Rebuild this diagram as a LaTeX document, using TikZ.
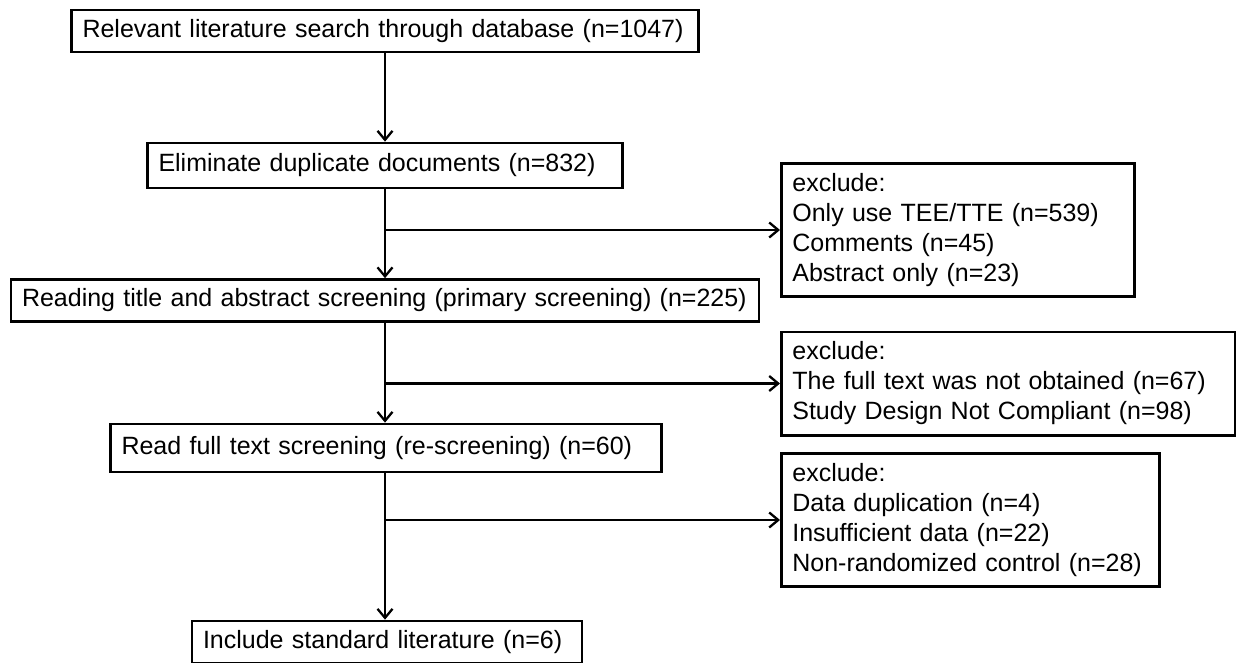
\documentclass[tikz,border=0pt]{standalone}
\usepackage{fontspec}
\setmainfont{Liberation Sans}
\usetikzlibrary{arrows.meta}
\tikzset{
  stage/.style={draw, line width=2.7pt, inner xsep=11pt, align=left, font=\fontsize{25}{30}\selectfont,
    execute at begin node=\leavevmode\hbox\bgroup, execute at end node=\egroup},
  exbox/.style={draw, line width=2.7pt, inner xsep=11pt, inner ysep=10pt, align=left, anchor=west, font=\fontsize{25}{30}\selectfont},
  flow/.style={->, line width=2.3pt},
  >={Straight Barb[length=9pt,width=15pt]}
}
\begin{document}
\begin{tikzpicture}[x=1pt,y=1pt]
    \useasboundingbox (0,0) rectangle (1236,-663);

    % main stages
    \node [stage, text width=605pt, minimum height=42pt, name=search] at (385,-31) {Relevant literature search through database (n=1047)};
    \node [stage, text width=453pt, minimum height=45pt, name=dedup] at (385,-165.5) {Eliminate duplicate documents (n=832)};
    \node [stage, text width=726pt, minimum height=42pt, name=primary] at (385,-300.5) {Reading title and abstract screening (primary screening) (n=225)};
    \node [stage, text width=529pt, minimum height=48pt, name=fulltext] at (386,-448) {Read full text screening (re-screening) (n=60)};
    \node [stage, text width=368pt, minimum height=42pt, name=include] at (387,-642) {Include standard literature (n=6)};

    \draw [flow] (search) -- (dedup);
    \draw [flow] (dedup) -- (primary);
    \draw [flow] (primary) -- (primary.south |- fulltext.north);
    \draw [flow] (primary.south |- fulltext.south) -- (primary.south |- include.north);

    % excluded records
    \node [exbox, text width=331pt, name=exA] at (780,-230) {exclude:\\Only use TEE/TTE (n=539)\\Comments (n=45)\\Abstract only (n=23)};
    \node [exbox, text width=432pt, name=exB] at (780,-383.5) {exclude:\\The full text was not obtained (n=67)\\Study Design Not Compliant (n=98)};
    \node [exbox, text width=356pt, name=exC] at (780,-520) {exclude:\\Data duplication (n=4)\\Insufficient data (n=22)\\Non-randomized control (n=28)};

    \draw [flow] (dedup.south |- exA.west) -- (exA.west);
    \draw [flow] (primary.south |- exB.west) -- (exB.west);
    \draw [flow] (primary.south |- exC.west) -- (exC.west);
  \end{tikzpicture}
\end{document}
